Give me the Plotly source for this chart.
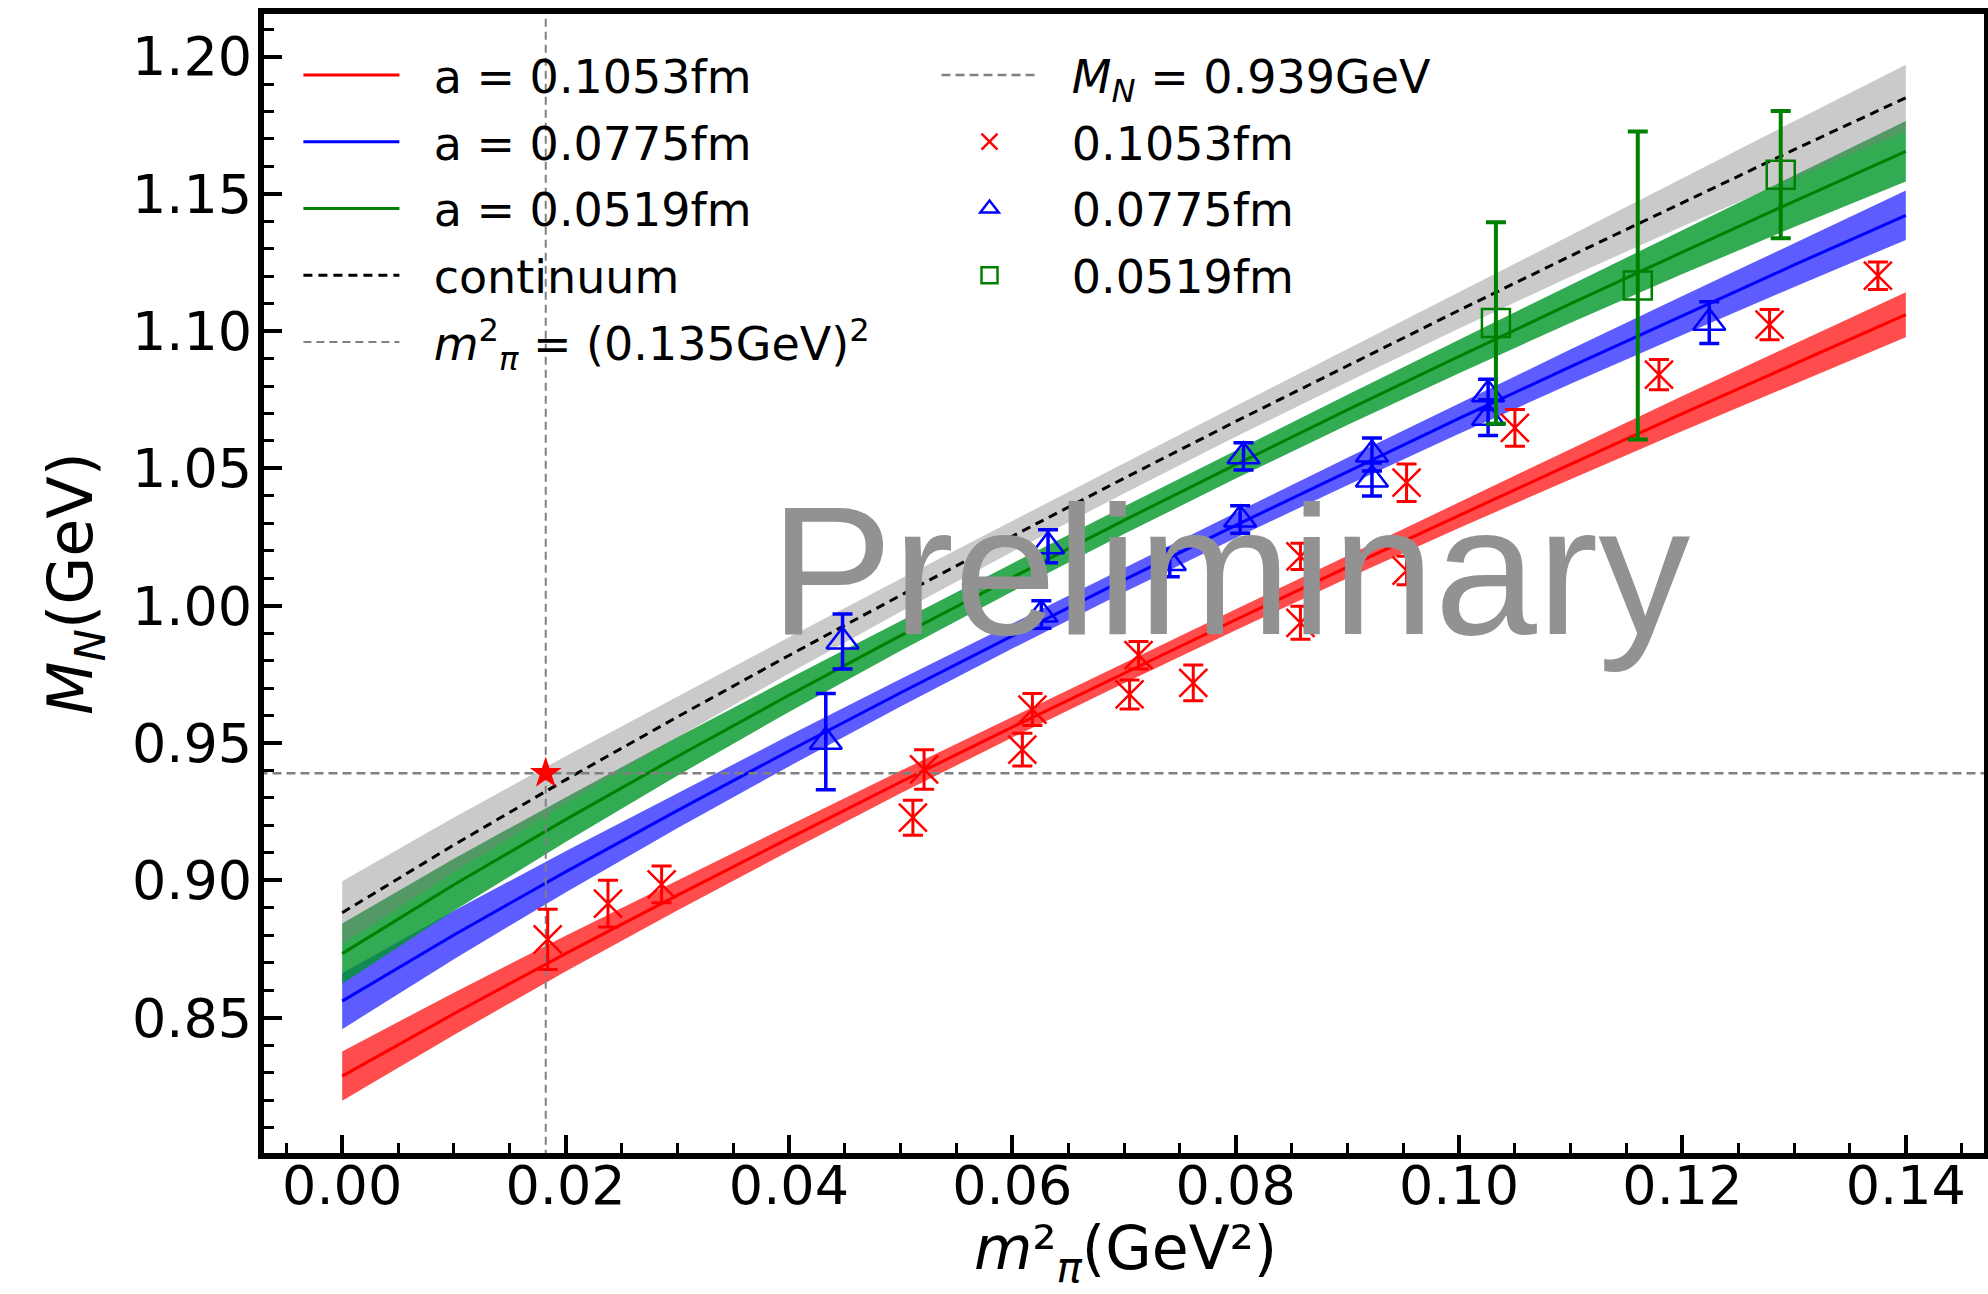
import plotly.graph_objects as go

# ---------------- data ----------------
x_grid = [0.00, 0.01, 0.02, 0.03, 0.04, 0.05, 0.06, 0.07, 0.08, 0.09, 0.10, 0.11, 0.12, 0.13, 0.14]

red_center = [0.8287, 0.8514, 0.8733, 0.8945, 0.9153, 0.9358, 0.9558, 0.9755, 0.9949, 1.0141, 1.0330, 1.0516, 1.0700, 1.0881, 1.1060]
red_half = [0.0090, 0.0077, 0.0065, 0.0055, 0.0047, 0.0041, 0.0038, 0.0037, 0.0038, 0.0041, 0.0047, 0.0055, 0.0064, 0.0073, 0.0082]

blue_center = [0.8560, 0.8801, 0.9031, 0.9254, 0.9471, 0.9683, 0.9890, 1.0094, 1.0293, 1.0489, 1.0682, 1.0871, 1.1057, 1.1241, 1.1422]
blue_half = [0.0102, 0.0088, 0.0075, 0.0064, 0.0056, 0.0050, 0.0046, 0.0045, 0.0046, 0.0050, 0.0056, 0.0063, 0.0071, 0.0080, 0.0090]

green_center = [0.8733, 0.8984, 0.9221, 0.9451, 0.9674, 0.9891, 1.0103, 1.0311, 1.0514, 1.0713, 1.0908, 1.1100, 1.1288, 1.1473, 1.1655]
green_half = [0.0110, 0.0095, 0.0081, 0.0070, 0.0061, 0.0055, 0.0051, 0.0050, 0.0051, 0.0055, 0.0061, 0.0069, 0.0080, 0.0094, 0.0110]

cont_center = [0.8882, 0.9129, 0.9366, 0.9595, 0.9819, 1.0038, 1.0253, 1.0464, 1.0671, 1.0875, 1.1076, 1.1274, 1.1469, 1.1661, 1.1850]
cont_half = [0.0115, 0.0100, 0.0086, 0.0075, 0.0066, 0.0060, 0.0056, 0.0055, 0.0056, 0.0060, 0.0066, 0.0075, 0.0088, 0.0103, 0.0120]

red_x = [0.0184, 0.0238, 0.0286, 0.0511, 0.0521, 0.0609, 0.0618, 0.0705, 0.0713, 0.0762,
         0.0858, 0.0858, 0.0953, 0.0953, 0.1050, 0.1179, 0.1278, 0.1375]
red_y = [0.8785, 0.8915, 0.8985, 0.9228, 0.9404, 0.9476, 0.9622, 0.9677, 0.9820, 0.9719,
         0.9938, 1.0180, 1.0128, 1.0448, 1.0648, 1.0842, 1.1024, 1.1202]
red_err = [0.0110, 0.0085, 0.0067, 0.0064, 0.0072, 0.0060, 0.0058, 0.0053, 0.0050, 0.0065,
           0.0060, 0.0048, 0.0052, 0.0068, 0.0067, 0.0055, 0.0055, 0.0050]

blue_x = [0.0433, 0.0448, 0.0626, 0.0632, 0.0741, 0.0804, 0.0807, 0.0922, 0.0922, 0.1026, 0.1026, 0.1224]
blue_y = [0.9505, 0.9870, 0.9968, 1.0217, 1.0156, 1.0314, 1.0544, 1.0460, 1.0551, 1.0685, 1.0770, 1.1031]
blue_err = [0.0175, 0.0100, 0.0050, 0.0060, 0.0050, 0.0050, 0.0050, 0.0060, 0.0060, 0.0065, 0.0055, 0.0076]

green_x = [0.1033, 0.1160, 0.1288]
green_y = [1.1030, 1.1166, 1.1570]
green_err = [0.0367, 0.0561, 0.0232]

mpi2_phys = 0.135 ** 2
MN_phys = 0.939

x_range = [-0.007, 0.147]
y_range = [0.8007, 1.2155]

x_title = "<i>m</i>²<sub><i>π</i></sub>(GeV²)"
y_title = "<i>M</i><sub><i>N</i></sub>(GeV)"

FONT = "DejaVu Sans"
SP = "\u00a0\u00a0"  # gap between legend glyph and label

fig = go.Figure()


def band(center, half, fill):
    upper = [c + h for c, h in zip(center, half)]
    lower = [c - h for c, h in zip(center, half)]
    fig.add_trace(go.Scatter(
        x=x_grid + x_grid[::-1], y=upper + lower[::-1],
        fill="toself", fillcolor=fill, line=dict(width=0),
        mode="lines", hoverinfo="skip", showlegend=False))


band(red_center, red_half, "rgba(255,0,0,0.70)")
band(blue_center, blue_half, "rgba(0,0,255,0.64)")
band(green_center, green_half, "rgba(0,150,40,0.80)")
band(cont_center, cont_half, "rgba(128,128,128,0.42)")

# fit lines
fig.add_trace(go.Scatter(x=x_grid, y=red_center, mode="lines", line=dict(color="rgb(255,0,0)", width=3),
                         name=SP + "a = 0.1053fm", legend="legend", legendgroup="l1"))
fig.add_trace(go.Scatter(x=x_grid, y=blue_center, mode="lines", line=dict(color="rgb(0,0,255)", width=3),
                         name=SP + "a = 0.0775fm", legend="legend", legendgroup="l2"))
fig.add_trace(go.Scatter(x=x_grid, y=green_center, mode="lines", line=dict(color="rgb(0,128,0)", width=3),
                         name=SP + "a = 0.0519fm", legend="legend", legendgroup="l3"))
fig.add_trace(go.Scatter(x=x_grid, y=cont_center, mode="lines",
                         line=dict(color="black", width=3, dash="9px,6px"),
                         name=SP + "continuum", legend="legend", legendgroup="l4"))
# physical pion mass line
fig.add_trace(go.Scatter(x=[mpi2_phys, mpi2_phys], y=[0.78, 1.24], mode="lines",
                         line=dict(color="rgb(128,128,128)", width=2, dash="8px,5px"),
                         name=SP + "<i>m</i><sup>2</sup><sub><i>π</i></sub> = (0.135GeV)<sup>2</sup>",
                         legend="legend", legendgroup="l5"))
# physical nucleon mass line
fig.add_trace(go.Scatter(x=[-0.01, 0.15], y=[MN_phys, MN_phys], mode="lines",
                         line=dict(color="rgb(128,128,128)", width=2.5, dash="9px,5px"),
                         name=SP + "<i>M</i><sub><i>N</i></sub> = 0.939GeV", legend="legend2",
                         legendgroup="r1"))

# data points
fig.add_trace(go.Scatter(
    x=red_x, y=red_y, mode="markers", name=SP + "0.1053fm", legend="legend2", legendgroup="r2",
    marker=dict(symbol="x-thin", size=28, color="red", line=dict(color="red", width=2.5)),
    error_y=dict(type="data", array=red_err, visible=True, color="red", thickness=3, width=10)))
fig.add_trace(go.Scatter(
    x=blue_x, y=blue_y, mode="markers", name=SP + "0.0775fm", legend="legend2", legendgroup="r3",
    marker=dict(symbol="triangle-up-open", size=28, color="blue", line=dict(color="blue", width=2.5)),
    error_y=dict(type="data", array=blue_err, visible=True, color="blue", thickness=3.5, width=10)))
fig.add_trace(go.Scatter(
    x=green_x, y=green_y, mode="markers", name=SP + "0.0519fm", legend="legend2", legendgroup="r4",
    marker=dict(symbol="square-open", size=28, color="green", line=dict(color="green", width=2.5)),
    error_y=dict(type="data", array=green_err, visible=True, color="green", thickness=4, width=10)))

# physical point star
fig.add_trace(go.Scatter(x=[mpi2_phys], y=[MN_phys], mode="markers",
                         marker=dict(symbol="star", size=24, color="red"), showlegend=False))

legend_common = dict(
    xanchor="left", yanchor="top", bgcolor="rgba(0,0,0,0)", borderwidth=0,
    font=dict(family=FONT, size=46, color="black"), itemwidth=96,
    itemsizing="trace", tracegroupgap=4)

fig.update_layout(
    width=1988, height=1294,
    margin=dict(l=264, r=4, t=14, b=141, autoexpand=False),
    paper_bgcolor="white", plot_bgcolor="white",
    font=dict(family=FONT, color="black"),
    legend=dict(x=0.020, y=0.9785, **legend_common),
    legend2=dict(x=0.391, y=0.9785, **legend_common),
    xaxis=dict(
        range=x_range, showgrid=False, zeroline=False, automargin=False,
        showline=True, mirror=True, linecolor="black", linewidth=6,
        ticks="inside", tick0=0, dtick=0.02, ticklen=18, tickwidth=4, tickcolor="black",
        tickformat=".2f", tickfont=dict(family=FONT, size=54, color="black"),
        ticklabelstandoff=-20,
        minor=dict(ticks="inside", dtick=0.005, tick0=0, ticklen=10, tickwidth=3, tickcolor="black"),
    ),
    yaxis=dict(
        range=y_range, showgrid=False, zeroline=False, automargin=False,
        showline=True, mirror=True, linecolor="black", linewidth=6,
        ticks="inside", tick0=0, dtick=0.05, ticklen=18, tickwidth=4, tickcolor="black",
        tickformat=".2f", tickfont=dict(family=FONT, size=54, color="black"),
        ticklabelstandoff=-5,
        minor=dict(ticks="inside", dtick=0.01, tick0=0, ticklen=10, tickwidth=3, tickcolor="black"),
        title=dict(text=y_title, font=dict(family=FONT, size=62, color="black"), standoff=21),
    ),
    annotations=[
        dict(text="Preliminary", x=0.0795, y=1.0132, xref="x", yref="y",
             xanchor="center", yanchor="middle", showarrow=False,
             font=dict(family="Liberation Sans", size=184, color="rgb(146,146,146)")),
        dict(text=x_title, x=0.5006, y=-0.087, xref="paper", yref="paper",
             xanchor="center", yanchor="middle", showarrow=False,
             font=dict(family=FONT, size=60, color="black")),
    ],
)

fig.write_html("out.html")
